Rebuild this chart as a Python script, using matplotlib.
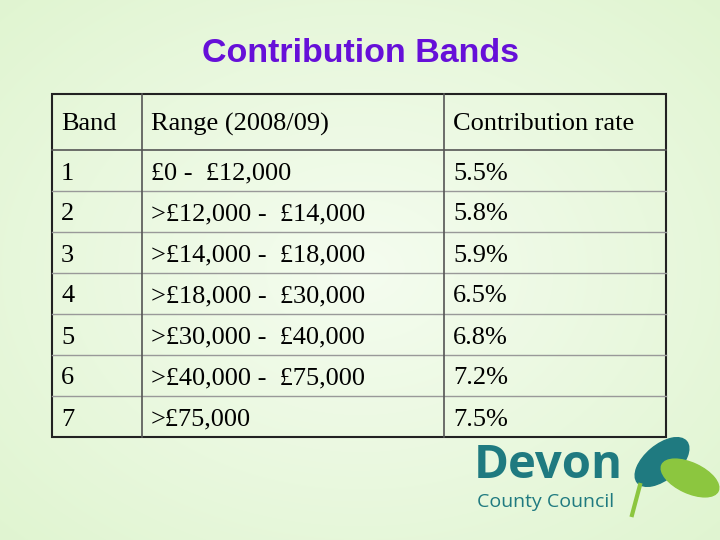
import numpy as np
import matplotlib.pyplot as plt
from matplotlib.patches import Rectangle, Ellipse

# table contents
header = ['Band', 'Range (2008/09)', 'Contribution rate']
bands = ['1', '2', '3', '4', '5', '6', '7']
ranges = ['£0 - £12,000', '>£12,000 - £14,000', '>£14,000 - £18,000',
          '>£18,000 - £30,000', '>£30,000 - £40,000', '>£40,000 - £75,000',
          '>£75,000']
rates = ['5.5%', '5.8%', '5.9%', '6.5%', '6.8%', '7.2%', '7.5%']

fig = plt.figure(figsize=(7.2, 5.4), dpi=100)
ax = fig.add_axes([0, 0, 1, 1])
ax.set_xlim(0, 720)
ax.set_ylim(540, 0)
ax.axis('off')

# soft green background gradient
yy, xx = np.mgrid[0:540, 0:720]
d = np.hypot((xx - 360) / 360, (yy - 270) / 270)
bg = np.clip(d / 1.4, 0, 1)
top = np.array([0.96, 0.99, 0.94])
edge = np.array([0.88, 0.96, 0.82])
img = top + (edge - top) * bg[..., None]
ax.imshow(img, extent=(0, 720, 540, 0), zorder=0)

ax.text(360, 53, 'Contribution Bands', ha='center', va='center',
        fontsize=24.5, fontweight='bold', color='#6610d8',
        family='Liberation Sans')

x0, x1, x2, x3 = 52, 142, 444, 666
ytop, yhead, row_h = 94, 150, 41
ybot = yhead + row_h * len(bands)
ax.add_patch(Rectangle((x0, ytop), x3 - x0, ybot - ytop, fill=False,
                       lw=1.5, ec='#222222', zorder=3))
ax.plot([x0, x3], [yhead, yhead], color='#555555', lw=1.2, zorder=3)
for i in range(1, len(bands)):
    y = yhead + i * row_h
    ax.plot([x0, x3], [y, y], color='#999999', lw=1.0, zorder=3)
for x in (x1, x2):
    ax.plot([x, x], [ytop, ybot], color='#555555', lw=1.2, zorder=3)

font = dict(fontsize=19, family='Liberation Serif', color='black',
            va='center', ha='left', zorder=4)
for x, t in zip((x0 + 9, x1 + 9, x2 + 9), header):
    ax.text(x, (ytop + yhead) / 2 + 2, t, **font)
for i, (b, r, c) in enumerate(zip(bands, ranges, rates)):
    y = yhead + i * row_h + row_h / 2 + 3
    ax.text(x0 + 9, y, b, **font)
    ax.text(x1 + 9, y, r.replace(' £', '  £'), **font)
    ax.text(x2 + 9, y, c, **font)

# Devon County Council logo
ax.text(474, 466, 'Devon', fontsize=34, fontweight='bold', color='#1f7a80',
        family='Open Sans', va='center', ha='left')
ax.text(477, 502, 'County Council', fontsize=14, color='#1f7a80',
        family='Open Sans', va='center', ha='left')
ax.add_patch(Ellipse((662, 462), 64, 34, angle=-40, color='#1f7a80', zorder=2))
ax.add_patch(Ellipse((690, 478), 62, 30, angle=25, color='#8cc63f', zorder=2))
ax.plot([640, 632], [485, 515], color='#8cc63f', lw=3)

fig.savefig('out.png', dpi=100)
